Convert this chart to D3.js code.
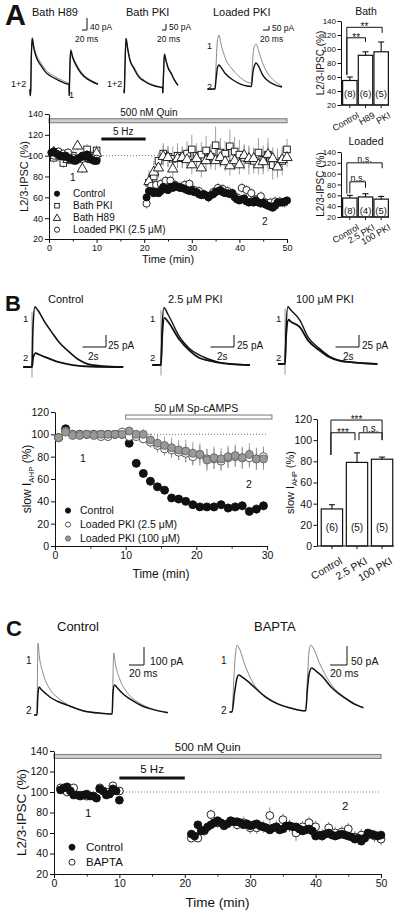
<!DOCTYPE html>
<html><head><meta charset="utf-8">
<script src="https://cdn.jsdelivr.net/npm/d3@7"></script>
<style>body{margin:0;background:#fff}</style>
</head><body><script>
// ================= DATA =================
// ---- Panel A time course (time in min, value in %) ----
const aCtrlPre  = [103,104,102,101,100,99,100,98,97,96,95,97,98,100,99,101,98,96,95,95]; // t 0.5..10 step 0.5
const aCtrlPost = [60,66,66,64,65,64,66,70,68,67, 70,69,71,70,69,69,68,67,66,67,
                   65,65,63,62,63,62,60,62,63,65, 66,67,65,64,64,63,64,60,58,57,
                   58,59,56,55,56,55,57,55,54,55, 53,52,51,50,52,55,55,55,56,57]; // t 20.5..50 step 0.5
const aBathPKIPre  = [98,100,93,100,100,97,98,106,100,105]; // t 1..10
const aBathPKIPost = [74,80,95,102,99,97,100,98,102,106, 100,101,105,99,110,103,102,109,104,101,
                      98,96,95,103,96,101,91,93,95,106]; // t 21..50
const aBathPKIErrPost = [8,8,8,10,10,12,12,10,12,14, 12,12,14,12,18,14,12,16,14,14, 12,14,12,14,14,16,14,14,14,10];
const aH89Pre  = [104,101,100,97,96,110,88,98,97,103];
const aH89Post = [76,85,89,100,99,88,98,99,97,92, 98,89,96,100,96,99,95,91,96,92,
                  101,98,98,92,95,102,98,90,97,99];
const aLoadPre  = [100,104,102,103,98,96,97,101,98,97];
const aLoadPost = [54,71,72,73,76,76,72,70,72,73, 67,66,63,60,65,69,68,66,64,60,
                   69,67,64,58,61,55,55,56,56,55]; // t 20.5..49.5
// ---- Panel A bars ----
const aBathCats = ["Control","H89","PKI"];
const aBathVals = [55,91,96];
const aBathErrs = [5,5,14];
const aBathN    = ["(8)","(6)","(5)"];
const aLoadCats = ["Control","2.5 PKI","100 PKI"];
const aLoadVals = [55,57,53];
const aLoadErrs = [5,6,5];
const aLoadN    = ["(8)","(4)","(5)"];
// ---- Panel B time course (t 0.5..29.5) ----
const bCtrl   = [97,105,100,100,100,100,100,100,100,100, 92,74,65,58,53,50,43,42,40,37, 35,35,35,37,34,35,36,31,33,36];
const bCtrlE  = [2,2,2,2,2,2,2,2,2,2, 3,3,3,3,3,3,3,3,3,3, 3,3,4,4,4,4,4,4,4,4];
const bPKI25  = [97,103,100,100,100,100,98,98,100,102, 98,98,96,93,90,87,86,84,83,80, 82,78,78,76,79,80,79,79,78,80];
const bPKI25E = [2,2,2,2,2,2,2,2,2,2, 3,3,4,5,6,6,7,7,8,8, 8,9,9,9,9,9,9,9,9,9];
const bPKI100 = [97,102,99,99,100,99,100,100,100,100, 103,100,100,95,92,90,88,86,85,83, 82,77,79,78,80,81,79,82,78,78];
const bPKI100E= [2,2,2,2,2,2,2,2,2,2, 3,4,5,6,8,8,9,9,10,10, 10,10,10,10,10,10,10,10,10,10];
// ---- Panel B bars ----
const bCats = ["Control","2.5 PKI","100 PKI"];
const bVals = [35,79,82];
const bErrs = [4,9,2];
const bN    = ["(6)","(5)","(5)"];
// ---- Panel C time course ----
const cCtrlPre  = [102,104,105,101,97,97,96,97,98,96,96,94,103,101,97,98,103,101,92]; // t 1..10 step 0.5
const cCtrlPost = [59,57,68,62,63,66,68,70,72,70, 67,69,72,71,71,70,68,69,67,68,
                   69,67,66,65,63,65,66,63,64,67, 67,66,66,64,62,63,64,62,57,58,
                   57,59,60,58,57,58,59,58,57,56, 54,55,52,55,60,59,58,57,58]; // t 21..50 step 0.5
const cBapPre  = [104,100,104,97,96,96,104,100,106,101]; // t 1..10
const cBapPost = [55,55,62,78,70,68,71,68,70,65, 65,66,77,66,73,67,60,66,70,66,
                  58,65,60,61,64,56,58,58,57,54]; // t 21..50
const cBapErrPost = [4,4,5,5,5,5,5,5,6,6, 6,6,8,6,6,6,8,6,6,6, 6,6,6,6,6,6,6,6,6,6];
// ---- Tick labels ----
const ticksIPSC = [20,40,60,80,100,120,140];
const ticksAHP  = [0,20,40,60,80,100,120];
const ticksT50  = [0,10,20,30,40,50];
const ticksT30  = [0,10,20,30];
// ---- Example traces [time, current] ----
const aH89Tr1 = [[-3,0],[0,0],[1,-19],[3,0],[5,100],[9,175],[15,148],[25,119],[44,90],[65,65],[85,52],[110,40],[150,24],[156,22],[157,-19],[158,22],[160,88],[163,135],[170,115],[185,88],[205,60],[230,40],[255,28],[272,21]];
const aH89Tr2 = [[-3,0],[0,0],[1,-19],[3,0],[5,100],[9,171],[15,140],[25,110],[44,81],[65,57],[85,45],[110,34],[150,20],[156,19],[157,-19],[158,19],[160,88],[163,131],[170,110],[185,81],[205,55],[230,36],[255,25],[272,19]];
const aPKITr1 = [[-3,0],[0,0],[1,-25],[2,0],[5,200],[10,433],[18,360],[30,260],[50,192],[70,130],[100,83],[140,45],[185,25],[193,22],[194,-25],[195,22],[198,150],[202,300],[210,250],[220,195],[235,150],[250,95],[270,42]];
const aPKITr2 = [[-3,0],[0,0],[1,-25],[2,0],[5,200],[10,430],[18,345],[30,245],[50,178],[70,118],[100,75],[140,40],[185,22],[193,20],[194,-25],[195,20],[198,150],[202,298],[210,245],[220,185],[235,140],[250,88],[270,38]];
const aLoadTr1 = [[-25,0],[0,0],[3,250],[8,600],[13,675],[20,560],[35,380],[60,237],[85,140],[107,87],[119,75],[121,75],[126,400],[132,540],[137,562],[145,480],[158,330],[173,212],[198,100],[223,37]];
const aLoadTr2 = [[-25,0],[0,0],[3,100],[8,260],[13,300],[20,270],[35,190],[60,112],[85,62],[107,37],[119,32],[121,32],[126,200],[132,300],[137,325],[145,285],[158,180],[173,112],[198,55],[223,25]];
const bCtrlTr1 = [[-0.75,0],[0,0],[0.08,80],[0.25,125],[0.5,118],[1.08,94],[1.7,72],[2.3,52],[3.2,31],[4,15],[4.8,6],[6,2],[7.8,0]];
const bCtrlTr2 = [[-0.75,0],[0,0],[0.1,20],[0.33,29],[0.6,26],[1.08,21],[2.3,10],[3.5,4],[5,1],[7.8,0]];
const bP25Tr1  = [[-0.75,0],[0,0],[0.1,80],[0.25,119],[0.6,105],[1.6,58],[2.4,35],[3.25,21],[4.1,12],[4.9,6],[6,2],[7.6,0]];
const bP25Tr2  = [[-0.75,0],[0,0],[0.1,60],[0.3,98],[0.6,90],[1.6,52],[2.4,31],[3.25,15],[4.1,9],[4.9,5],[6,2],[7.6,0]];
const bP100Tr1 = [[-0.6,0],[0,0],[0.1,80],[0.25,119],[0.5,112],[1.25,92],[2.0,55],[2.9,33],[3.8,16],[4.6,8],[6,3],[7.9,0]];
const bP100Tr2 = [[-0.6,0],[0,0],[0.1,60],[0.3,92],[0.5,88],[1.25,77],[2.0,48],[2.9,29],[3.8,14],[4.6,7],[6,3],[7.9,0]];
const bArtifact = [115,-22];
const cCtrlTr1 = [[-4,0],[0,0],[0.7,250],[1.3,400],[3,330],[8,233],[17,144],[28,95],[40,60],[61,24],[84,10],[99,7],[100,7],[101,200],[102,345],[104,290],[110,200],[120,125],[135,70],[150,38],[174,15]];
const cCtrlTr2 = [[-4,0],[0,0],[1,100],[2.7,156],[6,140],[12,118],[17,100],[28,75],[40,55],[61,24],[84,10],[99,6],[100,6],[101,120],[103,167],[107,150],[115,115],[125,85],[140,50],[155,30],[174,12]];
const cBapTr1 = [[-3,0],[0,0],[2,80],[4,150],[6,176],[9,165],[15,125],[25,76],[41,39],[55,22],[68,11],[86,3],[87,3],[89,90],[91,160],[93,176],[96,168],[103,130],[116,76],[133,39],[145,22],[155,11]];
const cBapTr2 = [[-3,0],[0,0],[3,50],[6,90],[8,97],[12,92],[18,82],[25,68],[41,37],[55,20],[68,11],[86,3],[87,3],[89,60],[91,100],[94,116],[99,108],[106,95],[116,68],[133,37],[145,20],[155,11]];

// ================= DRAWING =================
const FONT = "'Liberation Sans', Arial, Helvetica, sans-serif";
const INK = "#111";
const svg = d3.select("body").append("svg").attr("width",400).attr("height",914)
  .style("font-family",FONT).style("background","#fff");

function txt(x,y,s,fs,opt={}){
  const t = svg.append("text").attr("x",x).attr("y",y).attr("font-size",fs).attr("fill",INK).text(s);
  if(opt.anchor) t.attr("text-anchor",opt.anchor);
  if(opt.weight) t.attr("font-weight",opt.weight);
  return t;
}
function ylabel(x,y,fs,parts){
  const t = svg.append("text").attr("transform",`translate(${x},${y}) rotate(-90)`)
    .attr("text-anchor","middle").attr("font-size",fs).attr("fill",INK);
  parts.forEach(p=>{
    const s = t.append("tspan").text(p.s);
    if(p.sub){ s.attr("font-size",fs*0.65).attr("dy",fs*0.25); }
    if(p.after){ s.attr("dy",-fs*0.25); }
  });
}
function styleAxis(g,fs){
  g.attr("font-family",FONT).attr("font-size",fs);
  g.selectAll("path,line").attr("stroke",INK).attr("stroke-width",1);
  g.selectAll("text").attr("fill",INK);
}
function marker(g,shape,cx,cy,r,fill,stroke){
  if(shape==="circle"){
    g.append("circle").attr("cx",cx).attr("cy",cy).attr("r",r).attr("fill",fill).attr("stroke",stroke).attr("stroke-width",0.9);
  } else if(shape==="square"){
    g.append("rect").attr("x",cx-r).attr("y",cy-r).attr("width",2*r).attr("height",2*r).attr("fill",fill).attr("stroke",stroke).attr("stroke-width",0.9);
  } else {
    g.append("path").attr("d",d3.symbol().type(d3.symbolTriangle).size(r*r*2.6)())
      .attr("transform",`translate(${cx},${cy+r*0.2})`).attr("fill",fill).attr("stroke",stroke).attr("stroke-width",0.9);
  }
}
function timeSeries(t0,step,vals){ return vals.map((v,i)=>t0+i*step); }

function scatterPanel(c){
  const x = d3.scaleLinear().domain(c.xDomain).range(c.xRange);
  const y = d3.scaleLinear().domain(c.yDomain).range(c.yRange);
  const g = svg.append("g");
  c.appBars.forEach(b=>{
    if(b.thick){
      g.append("line").attr("x1",x(b.t0)).attr("x2",x(b.t1)).attr("y1",y(b.v)).attr("y2",y(b.v))
        .attr("stroke",INK).attr("stroke-width",b.thick);
    } else {
      g.append("rect").attr("x",x(b.t0)).attr("width",x(b.t1)-x(b.t0)).attr("y",y(b.v)-b.h/2).attr("height",b.h)
        .attr("fill",b.fill).attr("stroke",b.stroke).attr("stroke-width",1);
    }
    txt(x(b.lt),y(b.v)-b.lgap,b.label,b.fs,{anchor:"middle"});
  });
  g.append("line").attr("x1",x(c.xDomain[0])).attr("x2",x(c.xDomain[1])).attr("y1",y(100)).attr("y2",y(100))
    .attr("stroke","#555").attr("stroke-width",0.8).attr("stroke-dasharray","1,2");
  const ya = g.append("g").attr("transform",`translate(${c.xRange[0]},0)`)
    .call(d3.axisLeft(y).tickValues(c.yTicks).tickSize(4).tickSizeOuter(0).tickPadding(2));
  styleAxis(ya,c.tickFs);
  const xa = g.append("g").attr("transform",`translate(0,${c.yRange[0]})`)
    .call(d3.axisBottom(x).tickValues(c.xTicks).tickSize(4).tickSizeOuter(0).tickPadding(2));
  styleAxis(xa,c.tickFs);
  const xm = g.append("g").attr("transform",`translate(0,${c.yRange[0]})`)
    .call(d3.axisBottom(x).tickValues(c.xTicks.slice(0,-1).map(v=>v+5)).tickSize(2.5).tickFormat(""));
  xm.select(".domain").remove(); styleAxis(xm,c.tickFs);
  c.series.forEach(s=>{
    s.parts.forEach(p=>{
      p.v.forEach((v,i)=>{
        const e = p.e ? (Array.isArray(p.e)? p.e[i] : p.e) : 0;
        if(e>0) g.append("line").attr("x1",x(p.t[i])).attr("x2",x(p.t[i])).attr("y1",y(v-e)).attr("y2",y(v+e))
          .attr("stroke",s.errColor).attr("stroke-width",0.8);
      });
    });
  });
  c.series.forEach(s=>{
    s.parts.forEach(p=>{
      p.v.forEach((v,i)=>marker(g,s.shape,x(p.t[i]),y(v),s.r,s.fill,s.stroke));
    });
  });
  const legendSeries = c.legendOrder ? c.legendOrder.map(n=>c.series.find(s=>s.name===n)) : c.series;
  legendSeries.forEach((s,i)=>{
    const ly = c.legend.y0 + i*c.legend.dy;
    marker(g,s.shape,c.legend.mx,ly-c.legend.fs*0.33,s.lr,s.fill,s.stroke);
    txt(c.legend.tx,ly,s.name,c.legend.fs);
  });
  c.notes.forEach(n=>txt(n.x,n.y,n.s,n.fs));
  txt((c.xRange[0]+c.xRange[1])/2, c.xTitleY, "Time (min)", c.titleFs, {anchor:"middle"});
  ylabel(c.yTitleX,(c.yRange[0]+c.yRange[1])/2,c.titleFs,c.yTitle);
  return {x,y};
}

function barPanel(c){
  const x = d3.scaleBand().domain(c.cats).range(c.xRange).paddingInner(c.pad).paddingOuter(c.padOuter);
  const y = d3.scaleLinear().domain(c.yDomain).range(c.yRange);
  const g = svg.append("g");
  const ya = g.append("g").attr("transform",`translate(${c.axisX},0)`)
    .call(d3.axisLeft(y).tickValues(c.yTicks).tickSize(3.5).tickSizeOuter(0).tickPadding(1.5));
  styleAxis(ya,c.tickFs);
  const base = y(c.yDomain[0]);
  c.cats.forEach((k,i)=>{
    const bx = x(k), bw = x.bandwidth(), cx = bx+bw/2;
    g.append("rect").attr("x",bx).attr("width",bw).attr("y",y(c.vals[i])).attr("height",base-y(c.vals[i]))
      .attr("fill","#fff").attr("stroke",INK).attr("stroke-width",1.2);
    g.append("line").attr("x1",cx).attr("x2",cx).attr("y1",y(c.vals[i])).attr("y2",y(c.vals[i]+c.errs[i])).attr("stroke",INK).attr("stroke-width",1.1);
    g.append("line").attr("x1",cx-3).attr("x2",cx+3).attr("y1",y(c.vals[i]+c.errs[i])).attr("y2",y(c.vals[i]+c.errs[i])).attr("stroke",INK).attr("stroke-width",1.1);
    txt(cx,c.nY,c.n[i],c.nFs,{anchor:"middle"});
    g.append("line").attr("x1",cx).attr("x2",cx).attr("y1",base).attr("y2",base+3).attr("stroke",INK);
    svg.append("text").attr("transform",`translate(${cx+c.lab.dx},${base+c.lab.dy}) rotate(-30)`)
      .attr("text-anchor","end").attr("font-size",c.lab.fs).attr("fill",INK).text(k);
  });
  g.append("line").attr("x1",c.axisX).attr("x2",c.xRange[1]).attr("y1",base).attr("y2",base).attr("stroke",INK);
  c.brackets.forEach(b=>{
    const x1 = x(b.a)+x.bandwidth()/2+(b.da||0), x2 = x(b.b)+x.bandwidth()/2+(b.db||0);
    g.append("path").attr("d",`M${x1},${y(b.lowA)}V${y(b.top)}H${x2}V${y(b.lowB)}`)
      .attr("fill","none").attr("stroke",INK).attr("stroke-width",1);
    txt((x1+x2)/2, y(b.top)+b.ty, b.label, b.fs, {anchor:"middle"});
  });
  if(c.title) txt(c.titleX,c.titleY,c.title,c.titleFs,{anchor:"middle"});
  ylabel(c.yTitleX,(c.yRange[0]+c.yRange[1])/2,c.yTitleFs,c.yTitle);
}

function tracePanel(c){
  const x = d3.scaleLinear().domain([0,1]).range([c.x0, c.x0 + 1/c.tPerPx]);
  const y = d3.scaleLinear().domain([0,1]).range([c.base, c.base - 1/c.aPerPx]);
  const line = d3.line().x(d=>x(d[0])).y(d=>y(d[1])).curve(d3.curveMonotoneX);
  if(c.artifact){
    svg.append("line").attr("x1",x(0)).attr("x2",x(0)).attr("y1",y(c.artifact[0])).attr("y2",y(c.artifact[1]))
      .attr("stroke","#999").attr("stroke-width",1);
  }
  c.traces.forEach(t=>svg.append("path").attr("d",line(t.d)).attr("fill","none")
    .attr("stroke",t.color).attr("stroke-width",t.w).attr("stroke-linejoin","round"));
  const sb = c.sb, dx = x(sb.dt)-x(0), dy = y(0)-y(sb.da);
  svg.append("path").attr("d",`M${sb.x-dx},${sb.y}H${sb.x}V${sb.y-dy}`).attr("fill","none").attr("stroke",INK).attr("stroke-width",1);
  txt(sb.ax,sb.ay,sb.aLabel,sb.fs);
  txt(sb.tx,sb.ty,sb.tLabel,sb.fs);
  (c.labels||[]).forEach(l=>txt(l.x,l.y,l.s,l.fs));
  txt(c.titleX,c.titleY,c.title,c.titleFs);
}

// ---------- Panel letters ----------
txt(5,25,"A",29,{weight:"bold"});
txt(5,311,"B",22,{weight:"bold"});
txt(6,636,"C",22,{weight:"bold"});

// ---------- Panel A traces ----------
tracePanel({x0:30,tPerPx:4,base:90,aPerPx:3.33,title:"Bath H89",titleX:32,titleY:16,titleFs:11,
  traces:[{d:aH89Tr1,color:"#888",w:1},{d:aH89Tr2,color:INK,w:1.4}],
  sb:{x:87,y:30,dt:20,da:40,ax:90,ay:30,aLabel:"40 pA",tx:75,ty:42,tLabel:"20 ms",fs:8.5},
  labels:[{x:11,y:87,s:"1+2",fs:9},{x:69,y:98,s:"1",fs:9}]});
tracePanel({x0:124,tPerPx:5,base:90,aPerPx:8.33,title:"Bath PKI",titleX:126,titleY:16,titleFs:11,
  traces:[{d:aPKITr1,color:"#888",w:1},{d:aPKITr2,color:INK,w:1.4}],
  sb:{x:166,y:30,dt:20,da:50,ax:169,ay:30,aLabel:"50 pA",tx:157,ty:42,tLabel:"20 ms",fs:8.5},
  labels:[{x:107,y:87,s:"1+2",fs:9}]});
tracePanel({x0:215,tPerPx:3.33,base:89,aPerPx:12.5,title:"Loaded PKI",titleX:213,titleY:16,titleFs:11,
  traces:[{d:aLoadTr1,color:"#888",w:1},{d:aLoadTr2,color:INK,w:1.4}],
  sb:{x:269,y:30,dt:20,da:50,ax:272,ay:31,aLabel:"50 pA",tx:260,ty:42,tLabel:"20 ms",fs:8.5},
  labels:[{x:207,y:49,s:"1",fs:9},{x:207,y:90,s:"2",fs:9}]});

// ---------- Panel A time course ----------
scatterPanel({xDomain:[0,50],xRange:[49,287],yDomain:[20,140],yRange:[239,114],
  yTicks:ticksIPSC,xTicks:ticksT50,tickFs:9,titleFs:11,xTitleY:263,yTitleX:28,
  yTitle:[{s:"L2/3-IPSC (%)"}],
  appBars:[{t0:0,t1:50,v:133.5,h:4,fill:"#cfcfcf",stroke:"#777",label:"500 nM Quin",lt:21,lgap:5,fs:10},
           {t0:11,t1:20.3,v:116,thick:3,label:"5 Hz",lt:15.6,lgap:4,fs:10}],
  series:[
    {name:"Bath PKI",shape:"square",r:3.3,lr:2.3,fill:"#fff",stroke:INK,errColor:"#888",
      parts:[{t:timeSeries(1,1,aBathPKIPre),v:aBathPKIPre,e:5},{t:timeSeries(21,1,aBathPKIPost),v:aBathPKIPost,e:aBathPKIErrPost}]},
    {name:"Bath H89",shape:"triangle",r:4.2,lr:3,fill:"#fff",stroke:INK,errColor:"#888",
      parts:[{t:timeSeries(1,1,aH89Pre),v:aH89Pre,e:5},{t:timeSeries(21,1,aH89Post),v:aH89Post,e:10}]},
    {name:"Loaded PKI (2.5 \u03bcM)",shape:"circle",r:3.6,lr:2.6,fill:"#fff",stroke:INK,errColor:"#888",
      parts:[{t:timeSeries(1,1,aLoadPre),v:aLoadPre,e:4},{t:timeSeries(20.5,1,aLoadPost),v:aLoadPost,e:5}]},
    {name:"Control",shape:"circle",r:3.6,lr:2.6,fill:INK,stroke:INK,errColor:"#555",
      parts:[{t:timeSeries(0.5,0.5,aCtrlPre),v:aCtrlPre,e:3},{t:timeSeries(20.5,0.5,aCtrlPost),v:aCtrlPost,e:3}]}
  ],
  legendOrder:["Control","Bath PKI","Bath H89","Loaded PKI (2.5 \u03bcM)"],
  legend:{mx:57,tx:73,y0:197,dy:12,fs:10},
  notes:[{x:70,y:181,s:"1",fs:10},{x:262,y:225,s:"2",fs:10}]});

// ---------- Panel A bars ----------
barPanel({cats:aBathCats,vals:aBathVals,errs:aBathErrs,n:aBathN,xRange:[342,389],pad:0.08,padOuter:0.04,axisX:341,
  yDomain:[20,140],yRange:[105,21],yTicks:ticksIPSC,tickFs:8,nY:97,nFs:9.5,
  lab:{dx:10,dy:12,fs:9},title:"Bath",titleX:366,titleY:15,titleFs:10.5,
  yTitleX:324,yTitleFs:10,yTitle:[{s:"L2/3-IPSC (%)"}],
  brackets:[{a:"Control",b:"PKI",da:-3,db:1,top:131,lowA:63,lowB:123,label:"**",ty:3,fs:10},
            {a:"Control",b:"H89",da:-3,db:0,top:116,lowA:63,lowB:110,label:"**",ty:3,fs:10}]});
barPanel({cats:aLoadCats,vals:aLoadVals,errs:aLoadErrs,n:aLoadN,xRange:[342,389],pad:0.08,padOuter:0.04,axisX:341,
  yDomain:[20,140],yRange:[217,152],yTicks:ticksIPSC,tickFs:8,nY:214,nFs:9.5,
  lab:{dx:10,dy:12,fs:9},title:"Loaded",titleX:366,titleY:145,titleFs:10.5,
  yTitleX:324,yTitleFs:10,yTitle:[{s:"L2/3-IPSC (%)"}],
  brackets:[{a:"Control",b:"100 PKI",da:-3,db:1,top:120,lowA:63,lowB:110,label:"n.s.",ty:-1,fs:9},
            {a:"Control",b:"2.5 PKI",da:0,db:0,top:85,lowA:64,lowB:74,label:"n.s.",ty:-1,fs:9}]});

// ---------- Panel B traces ----------
const bSb = (x,y,ax,tx)=>({x:x,y:y,dt:2,da:25,ax:ax,ay:349,aLabel:"25 pA",tx:tx,ty:360,tLabel:"2s",fs:10});
tracePanel({x0:32,tPerPx:0.0855,base:367,aPerPx:2.08,title:"Control",titleX:48,titleY:303,titleFs:11,artifact:bArtifact,
  traces:[{d:bCtrlTr2,color:INK,w:1.8},{d:bCtrlTr1,color:INK,w:1.6}],
  sb:bSb(106,347,108,88),labels:[{x:23,y:322,s:"1",fs:9.5},{x:23,y:361,s:"2",fs:9.5}]});
tracePanel({x0:161,tPerPx:0.0855,base:365,aPerPx:2.08,title:"2.5 \u03bcM PKI",titleX:168,titleY:303,titleFs:11,artifact:bArtifact,
  traces:[{d:bP25Tr2,color:INK,w:1.8},{d:bP25Tr1,color:INK,w:1.4}],
  sb:bSb(234,347,237,217),labels:[{x:150,y:322,s:"1",fs:9.5},{x:150,y:361,s:"2",fs:9.5}]});
tracePanel({x0:285,tPerPx:0.0855,base:364,aPerPx:2.08,title:"100 \u03bcM PKI",titleX:296,titleY:303,titleFs:11,artifact:bArtifact,
  traces:[{d:bP100Tr2,color:INK,w:1.8},{d:bP100Tr1,color:INK,w:1.4}],
  sb:bSb(359,347,362,343),labels:[{x:276,y:322,s:"1",fs:9.5},{x:276,y:361,s:"2",fs:9.5}]});

// ---------- Panel B time course ----------
const bT = timeSeries(0.5,1,bCtrl);
scatterPanel({xDomain:[0,30],xRange:[55,267],yDomain:[0,120],yRange:[546,412],
  yTicks:ticksAHP,xTicks:ticksT30,tickFs:10.5,titleFs:12,xTitleY:578,yTitleX:31,
  yTitle:[{s:"slow I"},{s:"AHP",sub:true},{s:" (%)",after:true}],
  appBars:[{t0:10,t1:30.7,v:115.5,h:4,fill:"#fff",stroke:"#777",label:"50 \u03bcM Sp-cAMPS",lt:20,lgap:5,fs:10.5}],
  series:[
    {name:"Control",shape:"circle",r:4,lr:2.6,fill:INK,stroke:INK,errColor:"#555",parts:[{t:bT,v:bCtrl,e:bCtrlE}]},
    {name:"Loaded PKI  (2.5 \u03bcM)",shape:"circle",r:4,lr:2.6,fill:"#fff",stroke:"#444",errColor:"#888",parts:[{t:bT,v:bPKI25,e:bPKI25E}]},
    {name:"Loaded PKI (100 \u03bcM)",shape:"circle",r:4,lr:2.6,fill:"#999",stroke:"#666",errColor:"#888",parts:[{t:bT,v:bPKI100,e:bPKI100E}]}
  ],
  legend:{mx:68,tx:80,y0:514,dy:14,fs:10.5},
  notes:[{x:80,y:462,s:"1",fs:10.5},{x:246,y:488,s:"2",fs:10.5}]});

// ---------- Panel B bars ----------
barPanel({cats:bCats,vals:bVals,errs:bErrs,n:bN,xRange:[320,394],pad:0.15,padOuter:0.05,axisX:317,
  yDomain:[0,120],yRange:[546,419],yTicks:ticksAHP,tickFs:10.5,nY:531,nFs:10,
  lab:{dx:11,dy:17,fs:10.5},title:"",titleX:0,titleY:0,titleFs:10,
  yTitleX:294,yTitleFs:11,yTitle:[{s:"slow I"},{s:"AHP",sub:true},{s:" (%)",after:true}],
  brackets:[{a:"Control",b:"100 PKI",da:-1,db:0,top:119,lowA:86,lowB:100,label:"***",ty:3,fs:10},
            {a:"Control",b:"2.5 PKI",da:-1,db:-2,top:107,lowA:86,lowB:100,label:"***",ty:3,fs:10},
            {a:"2.5 PKI",b:"100 PKI",da:2,db:0,top:107,lowA:100,lowB:100,label:"n.s.",ty:-1,fs:10}]});

// ---------- Panel C traces ----------
tracePanel({x0:37,tPerPx:1.33,base:715,aPerPx:5.56,title:"Control",titleX:57,titleY:631,titleFs:13,
  traces:[{d:cCtrlTr1,color:"#888",w:1},{d:cCtrlTr2,color:INK,w:1.5}],
  sb:{x:144,y:665,dt:20,da:100,ax:150,ay:665,aLabel:"100 pA",tx:129,ty:677,tLabel:"20 ms",fs:10.5},
  labels:[{x:26,y:664,s:"1",fs:10},{x:26,y:714,s:"2",fs:10}]});
tracePanel({x0:232,tPerPx:1.18,base:712,aPerPx:2.63,title:"BAPTA",titleX:254,titleY:631,titleFs:13,
  traces:[{d:cBapTr1,color:"#888",w:1},{d:cBapTr2,color:INK,w:1.5}],
  sb:{x:347,y:665,dt:20,da:50,ax:351,ay:665,aLabel:"50 pA",tx:330,ty:677,tLabel:"20 ms",fs:10.5},
  labels:[{x:221,y:664,s:"1",fs:10},{x:221,y:714,s:"2",fs:10}]});

// ---------- Panel C time course ----------
scatterPanel({xDomain:[0,50],xRange:[54,381],yDomain:[20,140],yRange:[874,751],
  yTicks:ticksIPSC,xTicks:ticksT50,tickFs:10.5,titleFs:13.5,xTitleY:907,yTitleX:26,
  yTitle:[{s:"L2/3-IPSC (%)"}],
  appBars:[{t0:0,t1:50,v:134.7,h:4,fill:"#cfcfcf",stroke:"#777",label:"500 nM Quin",lt:23.5,lgap:5,fs:11.5},
           {t0:10,t1:20,v:113.7,thick:3,label:"5 Hz",lt:15,lgap:5,fs:11.5}],
  series:[
    {name:"BAPTA",shape:"circle",r:3.9,lr:3,fill:"#fff",stroke:INK,errColor:"#777",
      parts:[{t:timeSeries(1,1,cBapPre),v:cBapPre,e:4},{t:timeSeries(21,1,cBapPost),v:cBapPost,e:cBapErrPost}]},
    {name:"Control",shape:"circle",r:3.9,lr:3,fill:INK,stroke:INK,errColor:"#555",
      parts:[{t:timeSeries(1,0.5,cCtrlPre),v:cCtrlPre,e:3},{t:timeSeries(21,0.5,cCtrlPost),v:cCtrlPost,e:3}]}
  ],
  legendOrder:["Control","BAPTA"],
  legend:{mx:72,tx:86,y0:851,dy:15,fs:11.5},
  notes:[{x:85,y:817,s:"1",fs:11.5},{x:342,y:810,s:"2",fs:11.5}]});
</script></body></html>
